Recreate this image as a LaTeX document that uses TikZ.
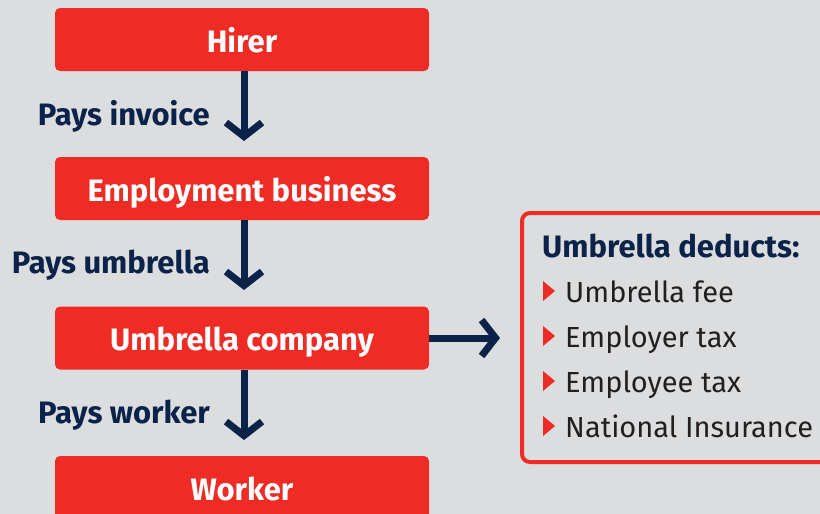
\documentclass[tikz,border=0pt]{standalone}
\usepackage{fontspec}
\setmainfont{Fira Sans}
\usetikzlibrary{arrows.meta}
\definecolor{bg}{HTML}{DCDDDF}
\definecolor{brandred}{HTML}{EE2B24}
\definecolor{navy}{HTML}{0B2349}
\definecolor{ink}{HTML}{231F20}
\tikzset{
  stage/.style={fill=brandred, rounded corners=5pt, minimum width=374pt, minimum height=63pt,
    text=white, font=\fontsize{31}{34}\selectfont\bfseries, inner sep=0pt,
    text height=25pt, text depth=0pt},
  flowlabel/.style={anchor=base east, text=navy, font=\fontsize{31}{34}\selectfont\bfseries, inner sep=0pt},
  flow/.style={draw=navy, line width=7pt, -{Straight Barb[length=14pt, width=36pt, line width=7pt]}},
  deductbox/.style={draw=brandred, line width=4pt, rounded corners=8pt, fill=none},
  bullettri/.style={fill=brandred, draw=none},
  item/.style={anchor=base west, text=ink, font=\fontsize{29}{32}\selectfont, inner sep=0pt},
}
\begin{document}
\begin{tikzpicture}[x=1pt, y=-1pt]
\clip (0,0) rectangle (820,514);
\fill[bg] (0,0) rectangle (820,514);
% stage boxes
\node[stage] (hirer) at (242,39.5) {Hirer};
\node[stage] (emp) at (242,188.5) {Employment business};
\node[stage] (umb) at (242,338) {Umbrella company};
\node[stage] (work) at (242,487.5) {Worker};
% arrow ends
\coordinate (e1) at (244,141);
\coordinate (e2) at (244,290);
\coordinate (e3) at (244,440);
\coordinate (e4) at (500,338);
\draw[flow] (hirer.south -| e1) -- (e1);
\draw[flow] (emp.south -| e2) -- (e2);
\draw[flow] (umb.south -| e3) -- (e3);
\draw[flow] (umb.east) -- (e4);
% labels
\node[flowlabel] (l1) at (210,125) {Pays invoice};
\node[flowlabel] (l2) at (210,273) {Pays umbrella};
\node[flowlabel] (l3) at (210,423) {Pays worker};
% deductions panel
\draw[deductbox] (522,213) rectangle (860,462);
\node[anchor=base west, text=navy, font=\fontsize{31}{34}\selectfont\bfseries, inner sep=0pt] (dt) at (542,257) {Umbrella deducts:};
\foreach \y/\t [count=\i] in {302/Umbrella fee, 347/Employer tax, 392/Employee tax, 437/National Insurance}{
  \fill[bullettri] (543,\y-21) -- (555,\y-11) -- (543,\y-1) -- cycle;
  \node[item] (it\i) at (565,\y) {\t};
}
\end{tikzpicture}
\end{document}
